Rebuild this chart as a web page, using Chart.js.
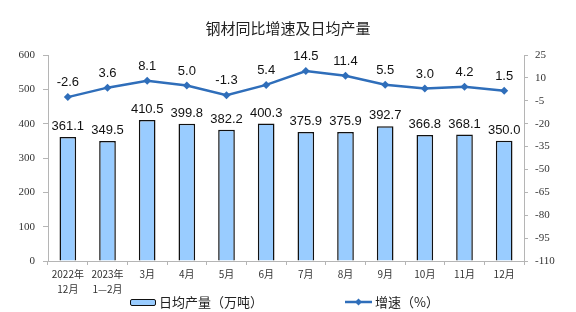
<!DOCTYPE html>
<html>
<head>
<meta charset="utf-8">
<script src="https://cdn.jsdelivr.net/npm/chart.js@4.4.1/dist/chart.umd.min.js"></script>
<style>
  html, body { margin: 0; padding: 0; background: #fff; }
  #wrap { position: relative; width: 576px; height: 312px; }
  #legend { position: absolute; left: 0; top: 292px; width: 576px; height: 20px;
            font-family: "Noto Sans CJK SC", sans-serif; font-size: 13px; color: #222; }
  .item { position: absolute; top: 0; height: 20px; line-height: 20px; white-space: nowrap; }
  .box { display: inline-block; width: 24px; height: 5px; background: #99CCFF; border: 1.5px solid #111;
         border-radius: 2px; vertical-align: middle; margin-right: 3px; position: relative; top: -1px; }
  .ln { display: inline-block; width: 27px; height: 10px; vertical-align: middle; margin-right: 3px; position: relative; top: -1px; }
</style>
</head>
<body>
<div id="wrap">
  <canvas id="chart" width="576" height="312"></canvas>
  <div id="legend">
    <div class="item" style="left:130px"><span class="box"></span>日均产量（万吨）</div>
    <div class="item" style="left:345px"><svg class="ln" viewBox="0 0 27 10"><line x1="0" y1="5" x2="27" y2="5" stroke="#2F6EBA" stroke-width="2.5"/><polygon points="13.5,1.5 17,5 13.5,8.5 10,5" fill="#2F6EBA"/></svg>增速（%）</div>
  </div>
</div>
<script>
// categories
const months = [['2022年', '12月'], ['2023年', '1—2月'], '3月', '4月', '5月', '6月', '7月', '8月', '9月', '10月', '11月', '12月'];
// daily average output, 10k tonnes
const dailyOutput = [361.1, 349.5, 410.5, 399.8, 382.2, 400.3, 375.9, 375.9, 392.7, 366.8, 368.1, 350.0];
// year-on-year growth, %
const growth = [-2.6, 3.6, 8.1, 5.0, -1.3, 5.4, 14.5, 11.4, 5.5, 3.0, 4.2, 1.5];

// value labels above bars and points
const valueLabels = {
    id: 'valueLabels',
    afterDatasetsDraw(chart) {
        const ctx = chart.ctx;
        ctx.save();
        ctx.fillStyle = '#111';
        ctx.font = '13px "Liberation Sans", Arial, sans-serif';
        ctx.textAlign = 'center';
        ctx.textBaseline = 'bottom';
        chart.data.datasets.forEach((ds, i) => {
            const meta = chart.getDatasetMeta(i);
            meta.data.forEach((el, j) => {
                const off = ds.type === 'line' ? 8 : 4;
                ctx.fillText(ds.data[j].toFixed(1), el.x, el.y - off);
            });
        });
        ctx.restore();
    }
};

const axisColor = '#b5b5b5';
const tickFont = { family: '"Liberation Serif", "Times New Roman", serif', size: 11 };

new Chart(document.getElementById('chart'), {
    type: 'bar',
    data: {
        labels: months,
        datasets: [
            {
                label: '增速（%）',
                type: 'line',
                data: growth,
                yAxisID: 'y1',
                borderColor: '#2F6EBA',
                backgroundColor: '#2F6EBA',
                borderWidth: 2.5,
                pointStyle: 'rectRot',
                pointRadius: 4,
                pointBorderWidth: 0,
                tension: 0,
                order: 0
            },
            {
                label: '日均产量（万吨）',
                data: dailyOutput,
                yAxisID: 'y',
                backgroundColor: '#99CCFF',
                borderColor: '#111',
                borderWidth: 1.5,
                barPercentage: 0.42,
                categoryPercentage: 1,
                order: 1
            }
        ]
    },
    options: {
        responsive: false,
        animation: false,
        layout: { padding: { top: 0, bottom: 17, left: 0, right: 0 } },
        plugins: {
            legend: { display: false },
            tooltip: { enabled: false },
            title: {
                display: true,
                text: '钢材同比增速及日均产量',
                color: '#222',
                font: { family: '"Noto Sans CJK SC", sans-serif', size: 15, weight: 'normal' },
                padding: { top: 19, bottom: 18 }
            }
        },
        scales: {
            x: {
                grid: { offset: true, drawOnChartArea: false, tickLength: 4, color: axisColor },
                border: { color: axisColor },
                ticks: {
                    color: '#333',
                    padding: 2,
                    maxRotation: 0,
                    autoSkip: false,
                    font: { family: '"Noto Sans CJK SC", sans-serif', size: 10, lineHeight: 1.5 }
                },
                afterFit(s) { s.height = 34; }
            },
            y: {
                position: 'left',
                min: 0,
                max: 600,
                grid: { drawOnChartArea: false, tickLength: 5, color: axisColor },
                border: { color: axisColor },
                ticks: { stepSize: 100, color: '#333', padding: 8, font: tickFont },
                afterFit(s) { s.width = 48; }
            },
            y1: {
                position: 'right',
                min: -110,
                max: 25,
                grid: { drawOnChartArea: false, tickLength: 4, color: axisColor },
                border: { color: axisColor },
                ticks: { stepSize: 15, color: '#333', padding: 7, font: tickFont },
                afterFit(s) { s.width = 52; }
            }
        }
    },
    plugins: [valueLabels]
});
</script>
</body>
</html>
